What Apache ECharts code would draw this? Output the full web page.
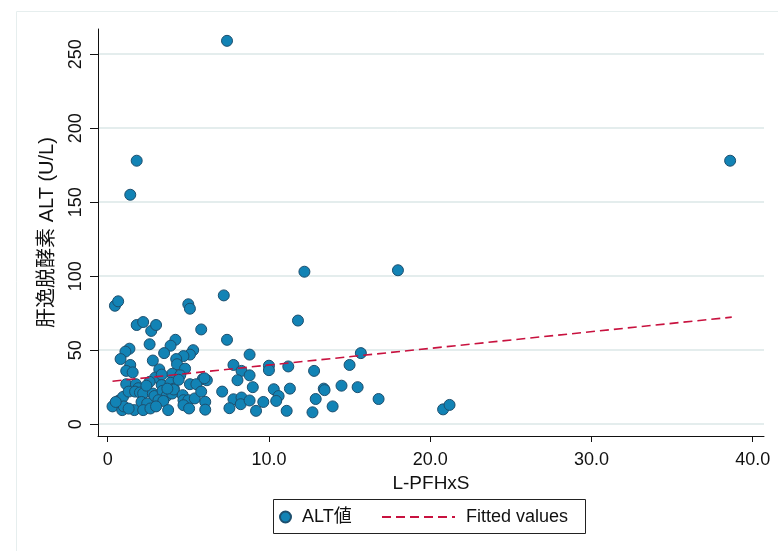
<!DOCTYPE html>
<html>
<head>
<meta charset="utf-8">
<script src="https://cdn.jsdelivr.net/npm/echarts@6/dist/echarts.min.js"></script>
<style>
html,body{margin:0;padding:0;background:#fff;}
#chart{width:778px;height:551px;}
</style>
</head>
<body>
<div id="chart"></div>
<script>
// ALT scatter data (L-PFHxS, ALT U/L)
const altX = [7.4,1.8,1.4,38.6,12.2,18.0,0.45,0.65,7.2,5.0,5.1,11.8,1.8,2.2,2.7,3.0,5.8,2.6,4.2,3.9,7.4,3.5,5.3,5.1,4.7,8.8,15.7,1.35,1.1,0.8,4.25,2.8,1.4,4.3,7.8,10.0,11.2,15.0,3.2,1.15,1.55,4.0,4.8,4.5,8.3,10.0,12.8,8.8,2.95,3.35,5.9,6.15,8.05,2.6,1.15,1.75,3.35,3.9,5.1,5.5,1.9,4.1,9.0,10.3,11.3,13.4,13.45,14.5,15.5,0.7,0.95,1.3,1.7,2.0,2.2,2.8,2.9,3.4,3.65,4.0,4.1,4.65,4.7,5.0,5.4,5.8,7.1,6.05,2.1,2.45,3.15,3.45,10.6,10.45,7.8,8.3,8.25,8.8,9.65,12.9,16.8,0.3,0.9,1.65,2.2,2.65,3.75,4.7,5.05,6.05,7.55,9.2,11.1,12.7,13.95,20.8,21.2,1.0,1.3,3.0,0.5,2.4,3.7,4.4,6.0];
const altY = [259,178,155,178,103,104,80,83,87,81,78,70,67,69,63,67,64,54,57,53,57,48,50,47,46,47,48,51,49,44,44,43,40,40.5,40,39.5,39,40,37,36,35,34,37.5,33,36,36.5,36,33,31.5,33.5,30.5,29.7,29.7,28.6,27,27,26.4,28,27,27,24.3,24,25,23.6,24,24,23,26,25,16,18.4,22,22,21.4,20.7,20.7,19,22.5,19,20.7,23.4,19.6,16.2,16.2,17.4,22,22,15.1,15,14,16.2,15.7,19,15.7,16.8,18,13.5,16,15,17,17,12,9.5,9.5,9.5,10.6,9.5,12.8,10.6,9.8,10.8,9,9,8,12,10,13,12,10.5,12,15,26,24,30,31];
// Fitted values line (end points)
const fitX = [0.3, 38.7];
const fitY = [29.0, 72.3];
const xTicks = [0, 10, 20, 30, 40];
const yTicks = [0, 50, 100, 150, 200, 250];
const seriesNames = ['ALT値', 'Fitted values'];
const xTitle = 'L-PFHxS';
const yTitle = '肝逸脱酵素 ALT (U/L)';

const FONT = '"Liberation Sans", Arial, "Noto Sans CJK JP", sans-serif';
const chart = echarts.init(document.getElementById('chart'));
const scatterData = altX.map((x, i) => [x, altY[i]]);
const fitData = fitX.map((x, i) => [x, fitY[i]]);

chart.setOption({
  animation: false,
  backgroundColor: '#ffffff',
  textStyle: { fontFamily: FONT },
  graphic: [
    { type: 'rect', left: 14, top: 9, shape: { width: 770, height: 550 },
      style: { fill: 'none', stroke: '#e6eeee', lineWidth: 1 }, silent: true, z: -1 },
    { type: 'rect', left: 273, top: 499, shape: { width: 312, height: 34 },
      style: { fill: '#fff', stroke: '#222', lineWidth: 1 }, silent: true, z: 0 }
  ],
  grid: { left: 98, right: 14, top: 29, bottom: 115, containLabel: false },
  xAxis: {
    type: 'value', min: -0.6, max: 40.7,
    name: xTitle, nameLocation: 'middle', nameGap: 37,
    nameTextStyle: { fontSize: 19, color: '#111', fontFamily: FONT },
    axisLine: { show: true, onZero: false, lineStyle: { color: '#111', width: 1 } },
    axisTick: { show: true, length: 6, customValues: xTicks, lineStyle: { color: '#111' } },
    axisLabel: { customValues: xTicks, fontSize: 18, color: '#111', margin: 15, fontFamily: FONT,
      formatter: v => v === 0 ? '0' : v.toFixed(1) },
    splitLine: { show: false }
  },
  yAxis: {
    type: 'value', min: -8, max: 267,
    name: yTitle, nameLocation: 'middle', nameGap: 41, nameRotate: 90,
    nameTextStyle: { fontSize: 20, color: '#111', fontFamily: FONT },
    axisLine: { show: true, onZero: false, lineStyle: { color: '#111', width: 1 } },
    axisTick: { show: true, length: 8, customValues: yTicks, lineStyle: { color: '#111' } },
    axisLabel: { customValues: yTicks, rotate: 90, fontSize: 18, color: '#111', margin: 13, fontFamily: FONT },
    splitLine: { show: true, lineStyle: { color: '#e4eded', width: 2 } }
  },
  legend: [
    { data: [seriesNames[0]], left: 274, top: 503, icon: 'circle', itemWidth: 11, itemHeight: 11,
      textStyle: { fontSize: 18, color: '#111', fontFamily: FONT, padding: [0, 0, 0, 6] } },
    { data: [seriesNames[1]], left: 376, top: 503, itemWidth: 73, itemHeight: 11,
      itemStyle: { opacity: 0 },
      textStyle: { fontSize: 18, color: '#111', fontFamily: FONT, padding: [0, 0, 0, 6] } }
  ],
  series: [
    { name: seriesNames[0], type: 'scatter', data: scatterData, symbol: 'circle', symbolSize: 11,
      itemStyle: { color: '#1283b5', borderColor: '#1d4f6e', borderWidth: 1, opacity: 1 }, z: 3 },
    { name: seriesNames[1], type: 'line', data: fitData, showSymbol: false, symbol: 'none',
      lineStyle: { color: '#c8123f', width: 1.6, type: [9, 5] }, itemStyle: { color: '#c8123f' }, z: 4 }
  ]
});
</script>
</body>
</html>
